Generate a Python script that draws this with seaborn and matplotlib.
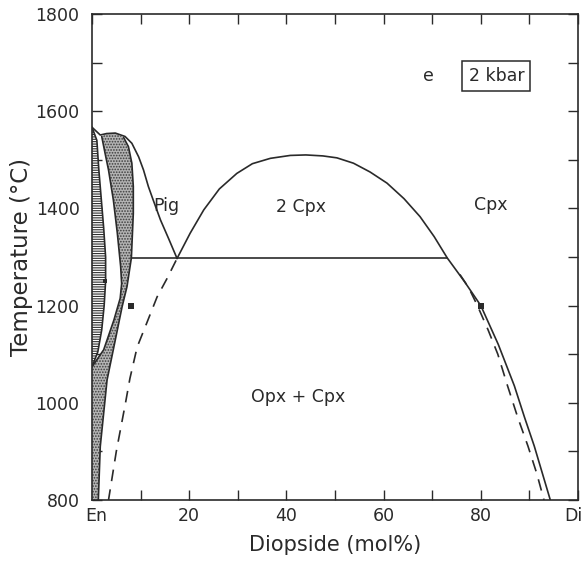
import numpy as np
import pandas as pd
import seaborn as sns
import matplotlib
matplotlib.use("Agg")
from matplotlib import pyplot as plt
from matplotlib.patches import Polygon
import matplotlib.transforms as mtransforms

# En-Di phase diagram at 2 kbar (x = mol% Di, t = degC)

# upper Pig limb, from En melting point over the top to the Pig/Cpx junction
pig_x = [0.0, 1.7, 3.0, 4.8, 6.8, 8.2, 9.6, 10.6, 11.6, 12.6, 14.1, 15.8, 17.5]
pig_t = [1567, 1551, 1554, 1555, 1548, 1534, 1506, 1479, 1445, 1417, 1376, 1337, 1297]

# right edge of stippled field (Opx side boundary)
p_x = [6.5, 7.5, 8.2, 8.5, 8.5, 8.1, 7.2, 6.2, 4.5, 3.1, 1.7, 1.3]
p_t = [1546, 1527, 1493, 1445, 1390, 1298, 1239, 1198, 1115, 1047, 910, 800]

# left edge of stippled field
q_x = [2.0, 2.7, 3.4, 4.4, 5.2, 5.9, 6.1, 5.8, 4.5, 2.4, 0.0]
q_t = [1548, 1513, 1479, 1417, 1350, 1280, 1245, 1215, 1170, 1109, 1074]

# right edge of horizontally hatched field
h_x = [0.0, 1.0, 1.4, 1.9, 2.4, 2.8, 2.8, 2.5, 2.0, 1.2, 0.0]
h_t = [1567, 1540, 1480, 1420, 1360, 1300, 1250, 1200, 1150, 1105, 1074]

# Cpx solvus (2 Cpx dome and Cpx limb)
solv_x = [17.5, 20.2, 23.0, 26.2, 29.8, 33.0, 36.7, 40.8, 44.0, 47.5, 50.4, 53.8,
          57.2, 60.7, 64.2, 67.5, 70.4, 73.1, 76.6, 80.0, 83.6, 86.9, 89.0, 91.0, 94.3]
solv_t = [1297, 1349, 1397, 1440, 1472, 1492, 1503, 1509, 1510, 1508, 1504, 1493,
          1475, 1452, 1420, 1383, 1342, 1298, 1250, 1200, 1120, 1035, 970, 911, 800]

# dashed (metastable) curves
dl_x = [17.3, 15.4, 13.4, 11.3, 9.3, 7.8, 6.9, 5.0, 3.4]
dl_t = [1293, 1255, 1218, 1165, 1115, 1050, 1000, 900, 800]
dr_x = [75.7, 77.5, 79.3, 81.5, 83.5, 85.5, 87.6, 89.7, 91.5, 93.0]
dr_t = [1264, 1237, 1200, 1150, 1100, 1035, 970, 911, 855, 800]

# three-phase line
tie_x = [8.1, 73.1]
tie_t = [1298, 1298]

# experimental points
pt_x = [8.0, 80.0, 2.6]
pt_t = [1200, 1200, 1250]

sns.set_style("ticks")
plt.rcParams["font.family"] = ["DejaVu Sans"]
plt.rcParams["hatch.linewidth"] = 0.8
ink = "#2a2a2a"

fig = plt.figure(figsize=(5.85, 5.62), dpi=100)
ax = fig.add_axes([92 / 585, 1 - 500 / 562, 486 / 585, 486 / 562])

# stippled field: Q down to the axis, axis down to 800, P back up, along top limb
stip = list(zip(q_x, q_t)) + [(0.0, 800)] + list(zip(p_x, p_t))[::-1] + [(4.8, 1555), (3.0, 1554)]
ax.add_patch(Polygon(stip, closed=True, facecolor="#b4b4b4", edgecolor="#3c3c3c",
                     hatch="......", linewidth=0))
# hatched field along the En axis
hatch = list(zip(h_x, h_t))
ax.add_patch(Polygon(hatch, closed=True, facecolor="white", edgecolor="#2e2e2e",
                     hatch="-------", linewidth=0))

solid = [(pig_x, pig_t), (p_x, p_t), (q_x, q_t), (h_x, h_t), (solv_x, solv_t), (tie_x, tie_t)]
for xs, ts in solid:
    sns.lineplot(x=xs, y=ts, sort=False, estimator=None, color=ink, linewidth=1.2, ax=ax)
for xs, ts in [(dl_x, dl_t), (dr_x, dr_t)]:
    sns.lineplot(x=xs, y=ts, sort=False, estimator=None, color=ink, linewidth=1.2,
                 dashes=(7, 5), ax=ax)

ax.plot(pt_x[0], pt_t[0], marker="s", markersize=4, color=ink, markeredgewidth=0, ls="none")
ax.plot(pt_x[1], pt_t[1], marker="s", markersize=5, color=ink, markeredgewidth=0, ls="none")
ax.plot(pt_x[2], pt_t[2], marker="s", markersize=2.5, color=ink, markeredgewidth=0, ls="none")

ax.set_xlim(0, 100)
ax.set_ylim(800, 1800)
ax.set_xticks([0, 20, 40, 60, 80, 100])
ax.set_xticklabels(["En", "20", "40", "60", "80", "Di"])
ax.set_xticks(np.arange(10, 100, 20), minor=True)
ax.set_yticks(np.arange(800, 1801, 200))
ax.set_yticks(np.arange(900, 1800, 200), minor=True)
ax.tick_params(which="both", direction="in", top=True, right=True, length=7, width=1,
               colors=ink, labelsize=12.5)
ax.tick_params(axis="x", pad=5)
ax.tick_params(axis="y", pad=9)
for s in ax.spines.values():
    s.set_color(ink)
    s.set_linewidth(1.2)

# nudge the end labels so they clear the corner and the right edge
xl = ax.get_xticklabels()
xl[0].set_transform(xl[0].get_transform() + mtransforms.ScaledTranslation(3 / 72, 0, fig.dpi_scale_trans))
xl[-1].set_transform(xl[-1].get_transform() + mtransforms.ScaledTranslation(-3 / 72, 0, fig.dpi_scale_trans))

ax.set_xlabel("Diopside (mol%)", fontsize=15, color=ink, labelpad=7)
ax.set_ylabel("Temperature (°C)", fontsize=16.5, color=ink, labelpad=2)

txt = dict(color=ink, fontsize=12.5, ha="center", va="center")
ax.text(15.3, 1405, "Pig", **txt)
ax.text(43.0, 1403, "2 Cpx", **txt)
ax.text(82.0, 1407, "Cpx", **txt)
ax.text(42.5, 1012, "Opx + Cpx", **txt)
ax.text(69.2, 1672, "e", **txt)
ax.text(83.2, 1672, "2 kbar", bbox=dict(boxstyle="square,pad=0.35", fc="white", ec=ink, lw=1.1), **txt)

fig.savefig("out.png", dpi=100)
